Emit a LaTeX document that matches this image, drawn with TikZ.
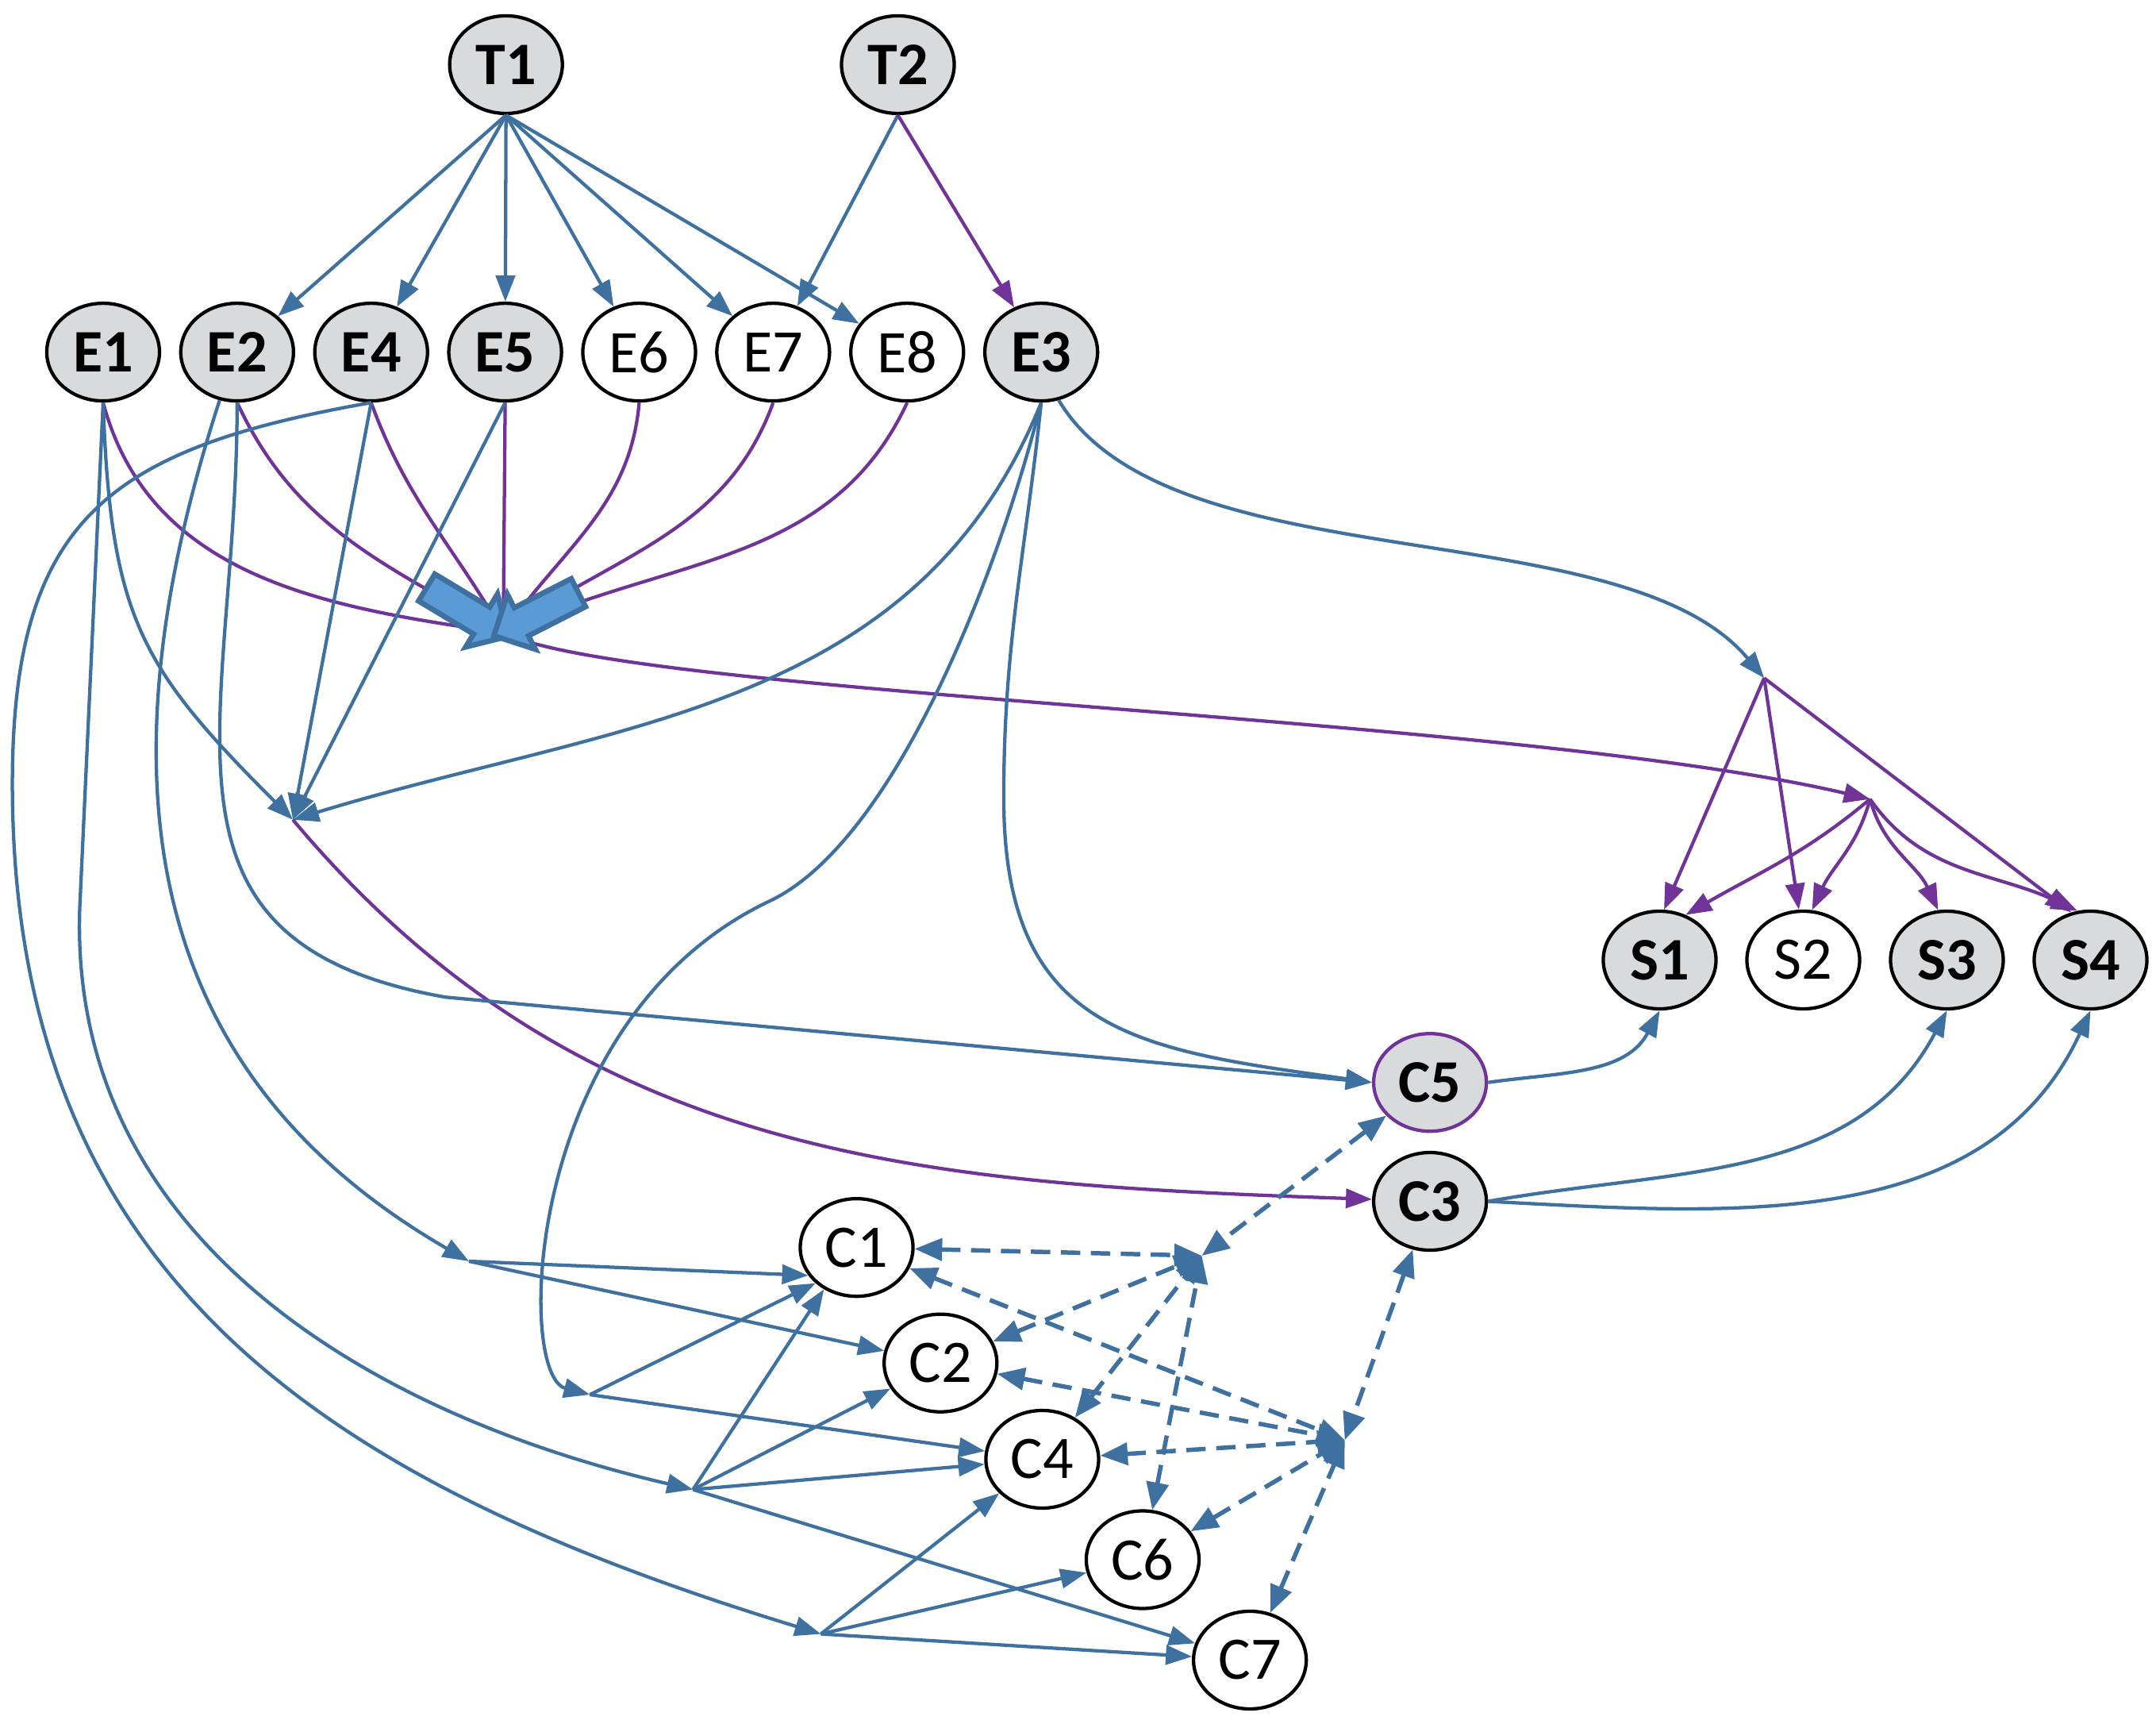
\documentclass[tikz,border=0pt]{standalone}
\usepackage{fontspec}
\setmainfont{Carlito}
\usetikzlibrary{arrows.meta,positioning,shapes.geometric,shapes.arrows}
\definecolor{lineblue}{RGB}{62,112,160}
\definecolor{linepurple}{RGB}{112,52,152}
\definecolor{nodegrey}{RGB}{217,218,220}
\definecolor{fatfill}{RGB}{91,155,213}
\tikzset{
  ent/.style  = {draw, ellipse, line width=0.7pt, minimum width=0.82cm, minimum height=0.71cm, inner sep=0pt, font=\fontsize{12.5}{14}\selectfont},
  key/.style  = {ent, fill=nodegrey, font=\fontsize{12.5}{14}\selectfont\bfseries},
  blu/.style  = {draw=lineblue, line width=0.7pt, -{Triangle[length=0.19cm, width=0.14cm]}},
  pur/.style  = {draw=linepurple, line width=0.7pt, -{Triangle[length=0.19cm, width=0.14cm]}},
  feed/.style = {draw=linepurple, line width=0.7pt},
  dsh/.style  = {draw=lineblue, line width=0.9pt, dash pattern=on 4pt off 2.2pt,
                 {Triangle[length=0.2cm, width=0.16cm]}-{Triangle[length=0.2cm, width=0.16cm]}},
  fat/.style  = {single arrow, draw=lineblue, fill=fatfill, line width=1.1pt, minimum height=0.69cm,
                 single arrow head extend=0.11cm, inner xsep=0pt, inner ysep=0.095cm}
}

\begin{document}
\begin{tikzpicture}
\useasboundingbox (0,0) rectangle (15.68,-12.53);

% top
\node[key] (T1) at (3.68,-0.47) {T1};
\node[key] (T2) at (6.53,-0.47) {T2};

% E row
\node[key] (E1) at (0.75,-2.56) {E1};
\node[key, right=0.13cm of E1] (E2) {E2};
\node[key, right=0.13cm of E2] (E4) {E4};
\node[key, right=0.13cm of E4] (E5) {E5};
\node[ent, right=0.13cm of E5] (E6) {E6};
\node[ent, right=0.13cm of E6] (E7) {E7};
\node[ent, right=0.13cm of E7] (E8) {E8};
\node[key, right=0.13cm of E8] (E3) {E3};

% S row
\node[key] (S1) at (12.07,-6.98) {S1};
\node[ent, right=0.2cm of S1] (S2) {S2};
\node[key, right=0.2cm of S2] (S3) {S3};
\node[key, right=0.2cm of S3] (S4) {S4};

% C nodes
\node[key, draw=linepurple] (C5) at (10.40,-7.87) {C5};
\node[key, below=0.13cm of C5] (C3) {C3};
\node[ent] (C1) at (6.23,-9.07) {C1};
\node[ent] (C2) at (6.84,-9.91) {C2};
\node[ent] (C4) at (7.58,-10.61) {C4};
\node[ent] (C6) at (8.31,-11.34) {C6};
\node[ent] (C7) at (9.09,-12.07) {C7};

% junction points
\coordinate (j1) at (3.66,-4.60);
\coordinate (j2) at (2.13,-5.96);
\coordinate (j3) at (12.83,-4.93);
\coordinate (j4) at (13.60,-5.81);
\coordinate (j5) at (3.41,-9.17);
\coordinate (j6) at (4.29,-10.14);
\coordinate (j7) at (5.04,-10.83);
\coordinate (j8) at (5.97,-11.88);
\coordinate (j9) at (8.74,-9.13);
\coordinate (j10) at (9.78,-10.47);

% T1, T2 down to the E row
\draw[blu] (T1.south) -- (E2);
\draw[blu] (T1.south) -- (E4);
\draw[blu] (T1.south) -- (E5);
\draw[blu] (T1.south) -- (E6);
\draw[blu] (T1.south) -- (E7);
\draw[blu] (T1.south) -- (E8);
\draw[blu] (T2.south) -- (E7);
\draw[pur] (T2.south) -- (E3);

% purple feeds into j1
\draw[feed] (E1.south) to[out=-75, in=172] (j1);
\draw[feed] (E2.south) to[out=-65, in=150] (j1);
\draw[feed] (E4.south) to[out=-70, in=120] (j1);
\draw[feed] (E5.south) -- (j1);
\draw[feed] (E6.south) to[out=-95, in=55] (j1);
\draw[feed] (E7.south) to[out=-110, in=35] (j1);
\draw[feed] (E8.south) to[out=-115, in=25] (j1);
\draw[pur] (j1) .. controls +(0.94,-0.46) and +(-2.60,0.61) .. (j4);

% into j2
\draw[blu] (E1.south) to[out=-88, in=135, looseness=1.2] (j2);
\draw[blu] (E4.south) -- (j2);
\draw[blu] (E5.south) -- (j2);
\draw[blu] (E3.south) to[out=-112, in=17] (j2);
\draw[pur] (j2) to[out=-50, in=178] (C3);

% long runs on the left
\draw[blu] (E2.250) to[out=-108, in=150, looseness=1.1] (j5);
\draw[blu] (E2.south) to[out=-90, in=170, looseness=1.3] (3.24,-7.25) -- (C5.west);
\draw[blu] (E1.south) -- (0.58,-6.6) to[out=-92, in=167] (j7);
\draw[blu] (E4.south) to[out=190, in=90, looseness=1.3] (0.09,-5.7) to[out=-90, in=163, looseness=1.1] (j8);

% runs from E3
\draw[blu] (E3.south) .. controls (7.25,-4.2) and (6.5,-6.12) .. (5.6,-6.55)
  .. controls (3.8,-7.4) and (3.75,-10.0) .. (j6);
\draw[blu] (E3.south) to[out=-96, in=90] (7.3,-5.8) to[out=-90, in=172, looseness=1.3] (C5.west);
\draw[blu] (E3.-70) .. controls (8.5,-4.25) and (11.8,-3.7) .. (j3);

% S row
\draw[pur] (j3) -- (S1.85);
\draw[pur] (j3) -- (S2.95);
\draw[pur] (j3) -- (S4.112);
\draw[pur] (j4) to[out=-140, in=30] (S1.60);
\draw[pur] (j4) to[out=-105, in=65] (S2.80);
\draw[pur] (j4) to[out=-75, in=115] (S3.100);
\draw[pur] (j4) to[out=-55, in=155] (S4.105);
\draw[blu] (C5.east) to[out=8, in=-118] (S1.south);
\draw[blu] (C3.east) to[out=10, in=-118] (S3.south);
\draw[blu] (C3.east) to[out=-3, in=-115] (S4.south);

% fans into the C nodes
\draw[blu] (j5) -- (C1.210);
\draw[blu] (j5) -- (C2);
\draw[blu] (j6) -- (C1.221);
\draw[blu] (j6) -- (C4);
\draw[blu] (j7) -- (C1.232);
\draw[blu] (j7) -- (C2);
\draw[blu] (j7) -- (C4);
\draw[blu] (j7) -- (C7);
\draw[blu] (j8) -- (C4);
\draw[blu] (j8) -- (C6);
\draw[blu] (j8) -- (C7);

% dashed links
\draw[dsh] (C5) -- (j9);
\draw[dsh] (C1) -- (j9);
\draw[dsh] (C2) -- (j9);
\draw[dsh] (C4) -- (j9);
\draw[dsh] (C6) -- (j9);
\draw[dsh] (C3) -- (j10);
\draw[dsh] (C1) -- (j10);
\draw[dsh] (C2) -- (j10);
\draw[dsh] (C4) -- (j10);
\draw[dsh] (C6) -- (j10);
\draw[dsh] (C7) -- (j10);

% block arrows at j1
\node[fat, rotate=-31] (bigL) at (3.35,-4.42) {};
\node[fat, rotate=207] (bigR) at (3.95,-4.44) {};
\end{tikzpicture}
\end{document}
